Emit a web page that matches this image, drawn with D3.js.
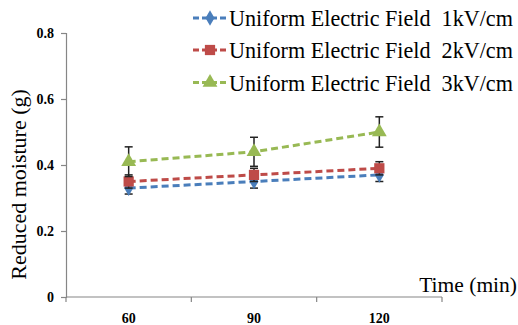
<!DOCTYPE html>
<html>
<head>
<meta charset="utf-8">
<script src="https://cdn.jsdelivr.net/npm/d3@7"></script>
<style>
  body { margin: 0; background: #ffffff; }
</style>
</head>
<body>
<div id="chart"></div>
<script>
// data
const categories = ["60", "90", "120"];
const seriesNames = ["Uniform Electric Field  1kV/cm", "Uniform Electric Field  2kV/cm", "Uniform Electric Field  3kV/cm"];
const values1kV = [0.33, 0.35, 0.37];
const values2kV = [0.35, 0.37, 0.39];
const values3kV = [0.41, 0.44, 0.50];
const errors1kV = [0.018, 0.02, 0.02];
const errors2kV = [0.02, 0.02, 0.02];
const errors3kV = [0.045, 0.044, 0.046];
const yTicks = [0, 0.2, 0.4, 0.6, 0.8];

const seriesColors = ["#4A7EBB", "#BE4B48", "#98B954"];
const seriesSymbols = [d3.symbolDiamond, d3.symbolSquare, d3.symbolTriangle];
const seriesSizes = [70, 105, 95];
const FONT = "Liberation Serif";

const series = [
    { name: seriesNames[0], values: values1kV, errors: errors1kV },
    { name: seriesNames[1], values: values2kV, errors: errors2kV },
    { name: seriesNames[2], values: values3kV, errors: errors3kV }
];

const width = 518, height = 325;
const x0 = 66, x1 = 442, y0 = 297, y1 = 33;

const svg = d3.select("#chart").append("svg")
    .attr("width", width)
    .attr("height", height)
    .attr("font-family", FONT);

const xScale = d3.scaleBand().domain(categories).range([x0, x1]);
const yScale = d3.scaleLinear().domain([0, 0.8]).range([y0, y1]);

// y axis
const gY = svg.append("g").attr("transform", `translate(${x0},0)`)
    .call(d3.axisLeft(yScale).tickValues(yTicks).tickSize(5).tickPadding(7)
        .tickFormat(d => d === 0 ? "0" : d3.format(".1f")(d)));
gY.attr("font-family", FONT).attr("font-size", 14);
gY.select(".domain").attr("stroke", "#868686").attr("stroke-width", 1.2);
gY.selectAll(".tick line").attr("stroke", "#868686").attr("stroke-width", 1.2);
gY.selectAll(".tick text")
    .attr("font-weight", "bold")
    .attr("fill", "#000");

// x axis, ticks on the category boundaries
const gX = svg.append("g").attr("transform", `translate(0,${y0})`);
gX.append("line")
    .attr("x1", x0).attr("x2", x1)
    .attr("stroke", "#868686").attr("stroke-width", 1.2);
const bounds = categories.map(c => xScale(c)).concat([x1]);
gX.selectAll(".xtick").data(bounds).enter().append("line")
    .attr("class", "xtick")
    .attr("x1", d => d).attr("x2", d => d)
    .attr("y1", 0).attr("y2", 5)
    .attr("stroke", "#868686").attr("stroke-width", 1.2);
gX.selectAll(".xlabel").data(categories).enter().append("text")
    .attr("class", "xlabel")
    .attr("x", d => xScale(d) + xScale.bandwidth() / 2)
    .attr("y", 26)
    .attr("text-anchor", "middle")
    .attr("font-size", 14)
    .attr("font-weight", "bold")
    .text(d => d);

// axis titles
svg.append("text")
    .attr("transform", "translate(26,184.5) rotate(-90)")
    .attr("text-anchor", "middle")
    .attr("font-size", 22)
    .text("Reduced moisture (g)");
svg.append("text")
    .attr("x", 517)
    .attr("y", 292)
    .attr("text-anchor", "end")
    .attr("font-size", 21.5)
    .text("Time (min)");

const cx = d => xScale(d) + xScale.bandwidth() / 2;

// series: lines, error bars, markers
series.forEach((s, k) => {
    const g = svg.append("g").attr("class", "series-" + k);
    const pts = categories.map((c, i) => ({ c: c, v: s.values[i], e: s.errors[i] }));
    g.append("path")
        .datum(pts)
        .attr("fill", "none")
        .attr("stroke", seriesColors[k])
        .attr("stroke-width", 3)
        .attr("stroke-dasharray", "7,4")
        .attr("d", d3.line().x(d => cx(d.c)).y(d => yScale(d.v)));
    const eb = g.selectAll(".err").data(pts).enter().append("g").attr("class", "err");
    eb.append("line")
        .attr("x1", d => cx(d.c)).attr("x2", d => cx(d.c))
        .attr("y1", d => yScale(d.v - d.e)).attr("y2", d => yScale(d.v + d.e))
        .attr("stroke", "#222").attr("stroke-width", 1.5);
    [-1, 1].forEach(sg => {
        eb.append("line")
            .attr("x1", d => cx(d.c) - 4).attr("x2", d => cx(d.c) + 4)
            .attr("y1", d => yScale(d.v + sg * d.e)).attr("y2", d => yScale(d.v + sg * d.e))
            .attr("stroke", "#222").attr("stroke-width", 1.5);
    });
    g.selectAll(".mark").data(pts).enter().append("path")
        .attr("class", "mark")
        .attr("transform", d => `translate(${cx(d.c)},${yScale(d.v)})`)
        .attr("d", d3.symbol().type(seriesSymbols[k]).size(seriesSizes[k]))
        .attr("fill", seriesColors[k]);
});

// legend
const legend = svg.append("g").attr("font-family", FONT);
const rowY = [18, 50, 82.5];
const legendTextWidth = 284;
series.forEach((s, k) => {
    const row = legend.append("g").attr("transform", `translate(0,${rowY[k]})`);
    row.append("line")
        .attr("x1", 193).attr("x2", 226)
        .attr("stroke", seriesColors[k])
        .attr("stroke-width", 3)
        .attr("stroke-dasharray", "6,3");
    row.append("path")
        .attr("transform", "translate(210,0)")
        .attr("d", d3.symbol().type(seriesSymbols[k]).size(seriesSizes[k]))
        .attr("fill", seriesColors[k]);
    const t = row.append("text")
        .attr("x", 229)
        .attr("y", 8)
        .attr("font-family", FONT)
        .attr("font-size", 22)
        .text(s.name.replace("  ", " \u00A0"));
    // fit the label to the width it has in the picture
    const len = t.node().getComputedTextLength();
    if (len > 0) t.attr("font-size", 22 * legendTextWidth / len);
});
</script>
</body>
</html>
